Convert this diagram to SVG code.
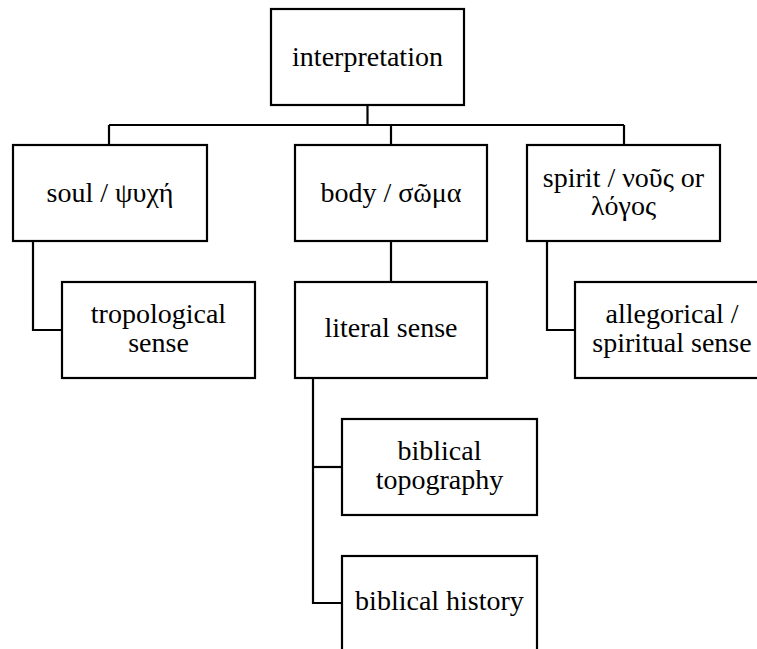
<svg xmlns="http://www.w3.org/2000/svg" width="757" height="649" viewBox="0 0 757 649">
<style>
.box{fill:#fff;stroke:#000;stroke-width:2.2}
.lbl{font-size:28px;fill:#000;text-anchor:middle}
.conn{fill:none;stroke:#000;stroke-width:2.2}
</style>
<rect width="757" height="649" fill="#fff"/>
<g id="connectors" class="conn">
<path d="M367.5,105 V125"/>
<path d="M109,125 H624"/>
<path d="M109,125 V145"/>
<path d="M391,125 V145"/>
<path d="M624,125 V145"/>
<path d="M33,241 V330 H62"/>
<path d="M391,241 V282"/>
<path d="M547,241 V330 H575"/>
<path d="M313,378 V603 H342"/>
<path d="M313,467 H342"/>
</g>
<g font-family="Liberation Serif, Times New Roman, DejaVu Serif, serif">
<g id="interpretation"><rect class="box" x="271" y="9" width="193" height="96"/><text class="lbl" x="367.5" y="66">interpretation</text></g>
<g id="soul"><rect class="box" x="13" y="145" width="194" height="96"/><text class="lbl" x="110" y="202">soul / ψυχή</text></g>
<g id="body"><rect class="box" x="295" y="145" width="192" height="96"/><text class="lbl" x="391" y="202">body / σῶμα</text></g>
<g id="spirit"><rect class="box" x="527" y="145" width="193" height="96"/><text class="lbl" x="623.5" y="187">spirit / νοῦς or</text><text class="lbl" x="623.5" y="215">λόγος</text></g>
<g id="tropological"><rect class="box" x="62" y="282" width="193" height="96"/><text class="lbl" x="158.5" y="323">tropological</text><text class="lbl" x="158.5" y="352">sense</text></g>
<g id="literal"><rect class="box" x="295" y="282" width="192" height="96"/><text class="lbl" x="391" y="337">literal sense</text></g>
<g id="allegorical"><rect class="box" x="575" y="282" width="194" height="96"/><text class="lbl" x="672" y="323">allegorical /</text><text class="lbl" x="672" y="352">spiritual sense</text></g>
<g id="topography"><rect class="box" x="342" y="419" width="195" height="96"/><text class="lbl" x="439.5" y="460">biblical</text><text class="lbl" x="439.5" y="489">topography</text></g>
<g id="history"><rect class="box" x="342" y="556" width="195" height="96"/><text class="lbl" x="439.5" y="610">biblical history</text></g>
</g>
</svg>
